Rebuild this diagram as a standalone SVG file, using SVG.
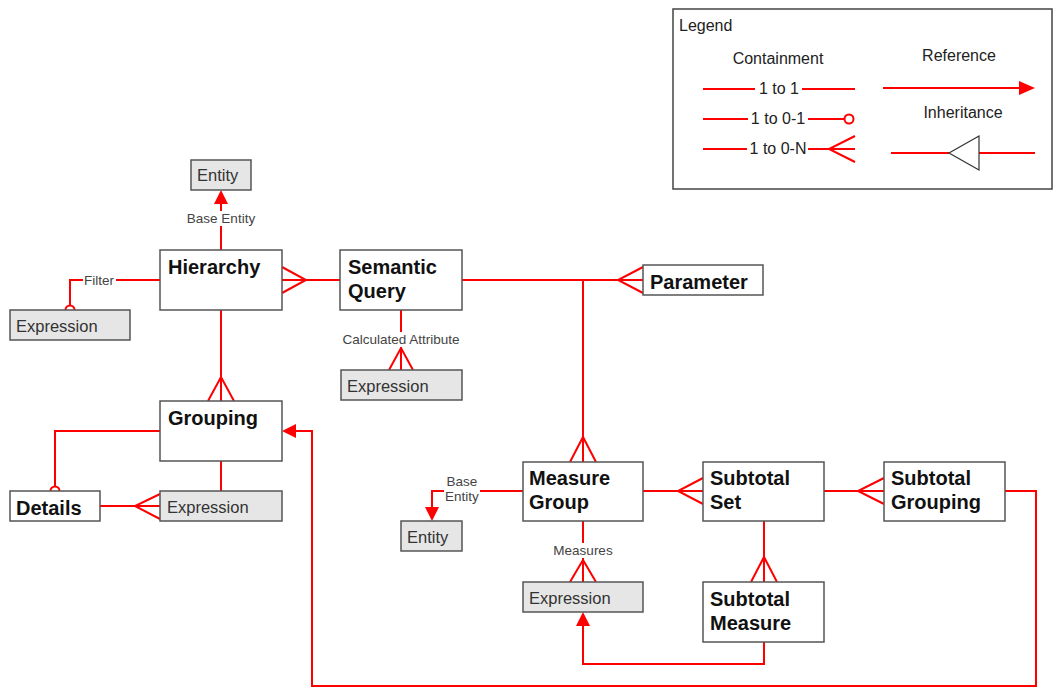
<svg xmlns="http://www.w3.org/2000/svg" width="1053" height="688" viewBox="0 0 1053 688">
<defs>
<style>
.box{fill:#fff;stroke:#555;stroke-width:1.5}
.ebox{fill:#e6e6e6;stroke:#555;stroke-width:1.5}
.t{font-family:"Liberation Sans",Arial,sans-serif;font-weight:bold;font-size:20px;fill:#111}
.e{font-family:"Liberation Sans",Arial,sans-serif;font-size:16.5px;fill:#333}
.l{font-family:"Liberation Sans",Arial,sans-serif;font-size:13.5px;fill:#444;text-anchor:middle}
.lg{font-family:"Liberation Sans",Arial,sans-serif;font-size:16px;fill:#222}
.c{fill:none;stroke:#f00;stroke-width:2}
.circ{fill:#fff;stroke:#f00;stroke-width:2}
.bg{fill:#fff}
</style>
</defs>
<rect width="1053" height="688" fill="#fff"/>

<g id="legend">
<rect x="673" y="9" width="379" height="180" fill="#fff" stroke="#444" stroke-width="1.5"/>
<text class="lg" x="679" y="31">Legend</text>
<text class="lg" x="778" y="64" text-anchor="middle">Containment</text>
<text class="lg" x="959" y="61" text-anchor="middle">Reference</text>
<text class="lg" x="963" y="118" text-anchor="middle">Inheritance</text>
<line class="c" x1="703" y1="89" x2="755" y2="89"/>
<line class="c" x1="802" y1="89" x2="855" y2="89"/>
<text class="lg" x="779" y="94" text-anchor="middle">1 to 1</text>
<line class="c" x1="703" y1="119" x2="748" y2="119"/>
<line class="c" x1="808" y1="119" x2="845" y2="119"/>
<circle class="circ" cx="849" cy="119" r="4.5"/>
<text class="lg" x="778" y="124" text-anchor="middle">1 to 0-1</text>
<line class="c" x1="703" y1="149" x2="747" y2="149"/>
<line class="c" x1="808" y1="149" x2="855" y2="149"/>
<path class="c" d="M855,136 L829,149 L855,162"/>
<text class="lg" x="778" y="154" text-anchor="middle">1 to 0-N</text>
<line class="c" x1="883" y1="88" x2="1022" y2="88"/>
<path d="M1019,81 L1035,88 L1019,95 z" fill="#f00"/>
<line class="c" x1="891" y1="153" x2="949" y2="153"/>
<line class="c" x1="979" y1="153" x2="1035" y2="153"/>
<path d="M979,136 L949,153 L979,170 z" fill="#fff" stroke="#333" stroke-width="1.2"/>
</g>

<g id="connectors">
<!-- Hierarchy -> Entity (reference) -->
<line class="c" x1="221" y1="250" x2="221" y2="204"/>
<path d="M214,204 L221,190 L228,204 z" fill="#f00"/>
<rect class="bg" x="184" y="211" width="74" height="15"/>
<text class="l" x="221" y="223">Base Entity</text>
<!-- Hierarchy -> Filter Expression -->
<polyline class="c" points="160,280 70,280 70,306"/>
<circle class="circ" cx="70" cy="310" r="4.5"/>
<rect class="bg" x="83" y="273" width="33" height="15"/>
<text class="l" x="99" y="285">Filter</text>
<!-- Hierarchy - Semantic Query -->
<line class="c" x1="282" y1="280" x2="340" y2="280"/>
<path class="c" d="M282,267 L306,280 L282,293"/>
<!-- Hierarchy - Grouping -->
<line class="c" x1="221" y1="310" x2="221" y2="401"/>
<path class="c" d="M208,401 L221,377 L234,401"/>
<!-- Semantic Query - Calculated Attribute Expression -->
<line class="c" x1="401" y1="310" x2="401" y2="370"/>
<path class="c" d="M389,370 L401,348 L413,370"/>
<rect class="bg" x="341" y="332" width="120" height="15"/>
<text class="l" x="401" y="344">Calculated Attribute</text>
<!-- Semantic Query - Parameter -->
<line class="c" x1="462" y1="280" x2="643" y2="280"/>
<path class="c" d="M643,267 L618,280 L643,293"/>
<!-- Semantic Query - Measure Group -->
<line class="c" x1="583" y1="280" x2="583" y2="462"/>
<path class="c" d="M570,462 L583,437 L596,462"/>
<!-- Grouping - Details -->
<polyline class="c" points="160,431 55,431 55,487"/>
<circle class="circ" cx="55" cy="491" r="4.5"/>
<!-- Grouping - Expression -->
<line class="c" x1="221" y1="461" x2="221" y2="491"/>
<!-- Details - Expression -->
<line class="c" x1="100" y1="506" x2="160" y2="506"/>
<path class="c" d="M160,494 L135,506 L160,519"/>
<!-- Measure Group -> Entity -->
<polyline class="c" points="523,491 432,491 432,508"/>
<path d="M425,507 L432,521 L439,507 z" fill="#f00"/>
<rect class="bg" x="444" y="474" width="36" height="31"/>
<text class="l" x="462" y="486">Base</text>
<text class="l" x="462" y="501">Entity</text>
<!-- Measure Group - Measures Expression -->
<line class="c" x1="583" y1="521" x2="583" y2="582"/>
<path class="c" d="M570,582 L583,560 L596,582"/>
<rect class="bg" x="551" y="543" width="64" height="15"/>
<text class="l" x="583" y="555">Measures</text>
<!-- Measure Group - Subtotal Set -->
<line class="c" x1="643" y1="491" x2="703" y2="491"/>
<path class="c" d="M703,478 L678,491 L703,504"/>
<!-- Subtotal Set - Subtotal Grouping -->
<line class="c" x1="824" y1="491" x2="884" y2="491"/>
<path class="c" d="M884,478 L858,491 L884,504"/>
<!-- Subtotal Set - Subtotal Measure -->
<line class="c" x1="764" y1="521" x2="764" y2="582"/>
<path class="c" d="M751,582 L764,557 L777,582"/>
<!-- Subtotal Measure -> Expression (reference) -->
<polyline class="c" points="764,642 764,664 583,664 583,626"/>
<path d="M576,626 L583,612 L590,626 z" fill="#f00"/>
<!-- Subtotal Grouping -> Grouping (reference) -->
<polyline class="c" points="1005,491 1036,491 1036,686 312,686 312,431 296,431"/>
<path d="M296,424 L282,431 L296,438 z" fill="#f00"/>
</g>

<g id="entity-top"><rect class="ebox" x="191" y="160" width="60" height="30"/><text class="e" x="197" y="181">Entity</text></g>
<g id="hierarchy"><rect class="box" x="160" y="250" width="122" height="60"/><text class="t" x="168" y="274">Hierarchy</text></g>
<g id="expression-filter"><rect class="ebox" x="10" y="310" width="120" height="30"/><text class="e" x="16" y="332">Expression</text></g>
<g id="semantic-query"><rect class="box" x="340" y="250" width="122" height="60"/><text class="t" x="348" y="274">Semantic</text><text class="t" x="348" y="298">Query</text></g>
<g id="expression-calc"><rect class="ebox" x="341" y="370" width="121" height="30"/><text class="e" x="347" y="392">Expression</text></g>
<g id="parameter"><rect class="box" x="643" y="265" width="120" height="30"/><text class="t" x="650" y="289">Parameter</text></g>
<g id="grouping"><rect class="box" x="160" y="401" width="122" height="60"/><text class="t" x="168" y="425">Grouping</text></g>
<g id="details"><rect class="box" x="10" y="491" width="90" height="30"/><text class="t" x="16" y="515">Details</text></g>
<g id="expression-grouping"><rect class="ebox" x="160" y="491" width="122" height="30"/><text class="e" x="167" y="513">Expression</text></g>
<g id="measure-group"><rect class="box" x="523" y="462" width="120" height="59"/><text class="t" x="529" y="485">Measure</text><text class="t" x="529" y="509">Group</text></g>
<g id="entity-mg"><rect class="ebox" x="401" y="521" width="61" height="30"/><text class="e" x="407" y="543">Entity</text></g>
<g id="expression-measures"><rect class="ebox" x="523" y="582" width="120" height="30"/><text class="e" x="529" y="604">Expression</text></g>
<g id="subtotal-set"><rect class="box" x="703" y="462" width="121" height="59"/><text class="t" x="710" y="485">Subtotal</text><text class="t" x="710" y="509">Set</text></g>
<g id="subtotal-grouping"><rect class="box" x="884" y="462" width="121" height="59"/><text class="t" x="891" y="485">Subtotal</text><text class="t" x="891" y="509">Grouping</text></g>
<g id="subtotal-measure"><rect class="box" x="703" y="582" width="121" height="60"/><text class="t" x="710" y="606">Subtotal</text><text class="t" x="710" y="630">Measure</text></g>
</svg>
